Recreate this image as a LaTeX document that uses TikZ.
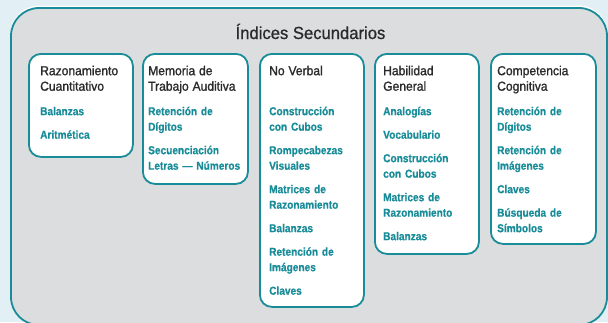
\documentclass[tikz,border=0pt]{standalone}
\usepackage{fontspec}
\setmainfont{Liberation Sans}
\newfontfamily\titulofont[FakeStretch=0.95,FakeBold=0.8]{Liberation Sans}
\newfontfamily\cabezafont[FakeStretch=0.93,FakeBold=1.2]{Liberation Sans}
\newfontfamily\listafont[FakeStretch=0.88,FakeBold=0.6]{Liberation Sans Bold}
\definecolor{fondo}{HTML}{E2EFF5}
\definecolor{gris}{HTML}{DCDDDF}
\definecolor{turquesa}{HTML}{188C98}
\definecolor{oscuro}{HTML}{2A2A2A}
\newcommand{\cabeza}[1]{{\cabezafont\fontsize{13pt}{15.5pt}\selectfont\color{oscuro}#1}}
\newcommand{\drawindice}[6]{
	\draw #1 node (#2) [indice,minimum width=#3,minimum height=#4] {};
	\draw (#2.north west) ++(#5,12) node (#2t) [lista] {#6};
}

\begin{document}
\begin{tikzpicture}[x=1pt,y=-1pt,
	indice/.style={draw=turquesa,line width=1.8pt,fill=white,rounded corners=12pt,anchor=north west,inner sep=0pt},
	lista/.style={anchor=north west,inner sep=0pt,text width=120pt,align=left,text height=10pt,text=turquesa,font=\listafont\fontsize{11.5pt}{15.5pt}\selectfont}]
	\useasboundingbox (0,0) rectangle (608,322);
	\fill[fondo] (0,0) rectangle (608,322);
	% marco exterior
	\draw[white,line width=1.5pt,rounded corners=28pt] (11,6.3) rectangle (607,325);
	\filldraw[fill=gris,draw=turquesa,line width=1.8pt,rounded corners=28pt] (11,8) rectangle (607,325);
	\node (titulo) at (310.5,39) [anchor=base,text=oscuro,font=\titulofont\fontsize{17.5pt}{20pt}\selectfont] {Índices Secundarios};
	% indices
	\drawindice{(28,53)}{rc}{104pt}{103pt}{12}{\cabeza{Razonamiento\\Cuantitativo}\\[9pt]
		Balanzas\\[8pt] Aritmética};
	\drawindice{(142,53)}{mt}{105pt}{130pt}{6}{\cabeza{Memoria de\\Trabajo Auditiva}\\[9pt]
		Retención de\\Dígitos\\[8pt] Secuenciación\\Letras — Números};
	\drawindice{(259,53)}{nv}{104pt}{253pt}{10}{\cabeza{No Verbal}\\[24.5pt]
		Construcción\\con Cubos\\[8pt] Rompecabezas\\Visuales\\[8pt] Matrices de\\Razonamiento\\[8pt]
		Balanzas\\[8pt] Retención de\\Imágenes\\[8pt] Claves};
	\drawindice{(374,53)}{hg}{104pt}{200pt}{9}{\cabeza{Habilidad\\General}\\[9pt]
		Analogías\\[8pt] Vocabulario\\[8pt] Construcción\\con Cubos\\[8pt] Matrices de\\Razonamiento\\[8pt] Balanzas};
	\drawindice{(490,53)}{cc}{105pt}{190pt}{7}{\cabeza{Competencia\\Cognitiva}\\[9pt]
		Retención de\\Dígitos\\[8pt] Retención de\\Imágenes\\[8pt] Claves\\[8pt] Búsqueda de\\Símbolos};
\end{tikzpicture}
\end{document}
